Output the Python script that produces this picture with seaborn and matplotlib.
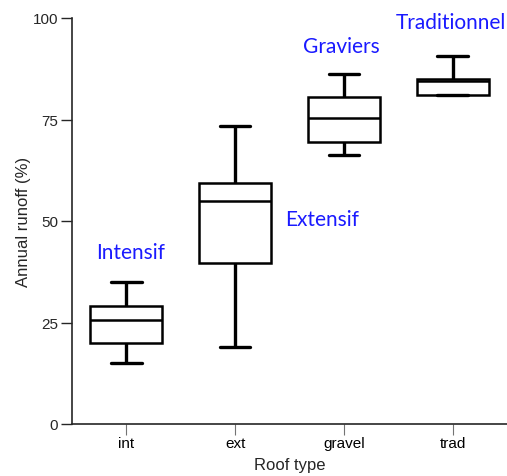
import matplotlib
matplotlib.use("Agg")
import matplotlib.pyplot as plt
import seaborn as sns
import pandas as pd
import numpy as np

# Data (five-number summaries)
roof_types = ["int", "ext", "gravel", "trad"]
lows    = [15.0, 19.0, 66.2, 81.1]
q1s     = [20.0, 39.6, 69.5, 81.1]
medians = [25.5, 55.0, 75.3, 84.4]
q3s     = [29.0, 59.4, 80.5, 85.0]
highs   = [35.0, 73.3, 86.2, 90.6]
labels  = ["Intensif", "Extensif", "Graviers", "Traditionnel"]

rows = []
for i, rt in enumerate(roof_types):
    for v in (lows[i], q1s[i], medians[i], q3s[i], highs[i]):
        rows.append({"Roof type": rt, "Annual runoff (%)": v})
df = pd.DataFrame(rows)

sns.set_style("ticks")
plt.rcParams["font.family"] = ["Liberation Sans", "DejaVu Sans"]

fig = plt.figure(figsize=(5.07, 4.77), dpi=100)
ax = fig.add_axes([72/507, 1-425/477, 1-72/507, (425-19)/477])

sns.boxplot(data=df, x="Roof type", y="Annual runoff (%)", order=roof_types,
            whis=(0, 100), width=0.66, color="white", linecolor="black",
            linewidth=1.8, fliersize=0, ax=ax)

for c in ax.containers:
    if hasattr(c, "caps"):
        for ln in c.caps:
            xd = np.asarray(ln.get_xdata(), dtype=float)
            mid = xd.mean()
            ln.set_xdata([mid - 0.14, mid + 0.14])
            ln.set_linewidth(2.4)
        for ln in c.whiskers:
            ln.set_linewidth(2.4)
        for p in c.boxes:
            p.set_facecolor("white")

ax.set_ylim(0, 100)
ax.set_xlim(-0.5, 3.5)
ax.set_yticks([0, 25, 50, 75, 100])
ax.tick_params(axis="both", labelsize=11, length=8, width=1, direction="out", pad=2)
ax.tick_params(axis="x", colors="0.45", labelcolor="black", width=0.8, pad=1)
sns.despine(ax=ax)
ax.spines["left"].set_linewidth(1.2)
ax.spines["bottom"].set_linewidth(1.2)
ax.set_xlabel("Roof type", fontsize=12, labelpad=5)
ax.set_ylabel("Annual runoff (%)", fontsize=12, labelpad=1)

pos = [(0.04, 42.4), (1.80, 50.5), (1.98, 93.1), (2.98, 99.0)]
for (x, y), t in zip(pos, labels):
    ax.text(x, y, t, color="#1a1aff", fontsize=15, family=["Lato", "DejaVu Sans"],
            ha="center", va="center", clip_on=False)

fig.savefig("out.png", dpi=100)
